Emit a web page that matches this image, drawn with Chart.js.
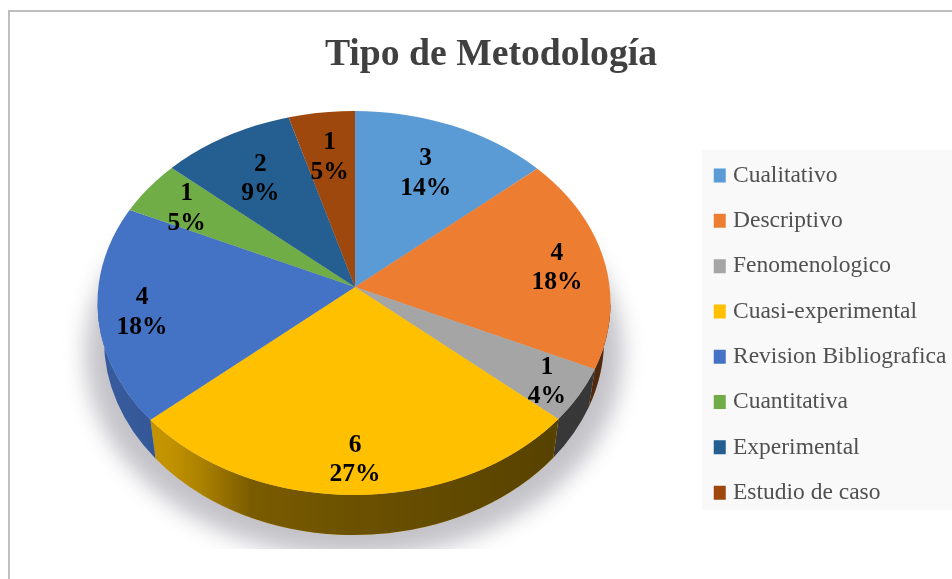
<!DOCTYPE html>
<html><head><meta charset="utf-8">
<style>html,body{margin:0;padding:0;background:#fff;overflow:hidden}canvas{display:block}</style>
<script src="https://cdn.jsdelivr.net/npm/chart.js@4/dist/chart.umd.min.js"></script>
</head><body>
<canvas id="c" width="952" height="579"></canvas>
<script>
const titulo = "Tipo de Metodología";
const categorias = ["Cualitativo","Descriptivo","Fenomenologico","Cuasi-experimental","Revision Bibliografica","Cuantitativa","Experimental","Estudio de caso"];
const valores = [3,4,1,6,4,1,2,1];
const porcentajes = ["14%","18%","4%","27%","18%","5%","9%","5%"];
const colores = ["#5B9BD5","#ED7D31","#A5A5A5","#FFC000","#4472C4","#70AD47","#255E91","#9E480E"];
const alcanceEtiqueta = [0.567,0.68,0.76,0.757,0.717,0.667,0.583,0.593];

const SERIF = '"Liberation Serif", serif';
const CX = 355, CY = 287, R = 300, K = 0.75;
const RIM = {cx:354, cy:303, rx:256.5, ry:192};
const WALL = {cy:340, rx:250, ry:195};

function rimAngle(a, ax, ay){
  const u0=(ax-RIM.cx)/RIM.rx, v0=(ay-RIM.cy)/RIM.ry;
  const c=Math.cos(a), s=Math.sin(a);
  const b=u0*c+v0*s, q=u0*u0+v0*v0-1;
  const t=-b+Math.sqrt(b*b-q);
  let r=Math.atan2(v0+t*s,u0+t*c);
  if(r<-Math.PI/2) r+=2*Math.PI;
  return r;
}

const plugin3d = {
  id:'pie3d',
  afterLayout(chart){
    chart.chartArea = {left:CX-R,right:CX+R,top:CY-R,bottom:CY+R,width:2*R,height:2*R};
    const l = chart.legend;
    const pad = l.options.labels.padding;
    l.left = 718.25-pad; l.right = 952;
    l.top = 142; l.bottom = 579;
    l.width = l.right-l.left; l.height = l.bottom-l.top;
  },
  beforeDraw(chart){
    const ctx = chart.ctx;
    ctx.save();
    ctx.fillStyle = '#fff'; ctx.fillRect(0,0,952,579);
    ctx.strokeStyle = '#bfbfbf'; ctx.lineWidth = 2;
    ctx.strokeRect(9,11,960,600);
    ctx.fillStyle = '#f9f9f9'; ctx.fillRect(702,150,250,360);
    ctx.restore();
  },
  beforeDatasetDraw(chart,args){
    const ctx = chart.ctx;
    const arcs = args.meta.data;
    const ax = arcs[0].x, ay = arcs[0].y;
    // cast shadow
    ctx.save();
    ctx.beginPath(); ctx.rect(0,0,952,549); ctx.clip();
    ctx.filter = 'blur(11px)';
    ctx.fillStyle = '#c2c2c8';
    ctx.beginPath(); ctx.ellipse(RIM.cx,WALL.cy+14,RIM.rx+12,WALL.ry+8,0,0,Math.PI*2); ctx.fill();
    ctx.restore();
    // side wall
    const shade = ctx.createLinearGradient(97,0,610,0);
    shade.addColorStop(0,'rgba(0,0,0,0.20)');
    shade.addColorStop(0.14,'rgba(0,0,0,0.24)');
    shade.addColorStop(0.2,'rgba(0,0,0,0.32)');
    shade.addColorStop(0.3,'rgba(0,0,0,0.52)');
    shade.addColorStop(0.5,'rgba(0,0,0,0.58)');
    shade.addColorStop(1,'rgba(0,0,0,0.68)');
    arcs.forEach((a,i)=>{
      const s = Math.max(rimAngle(a.startAngle,ax,ay),0), e = Math.min(rimAngle(a.endAngle,ax,ay),Math.PI);
      if(e<=s) return;
      [colores[i],shade].forEach(fill=>{
        ctx.beginPath();
        ctx.ellipse(RIM.cx,WALL.cy,WALL.rx,WALL.ry,0,s,e);
        ctx.lineTo(RIM.cx+RIM.rx*Math.cos(e),RIM.cy+RIM.ry*Math.sin(e));
        ctx.ellipse(RIM.cx,RIM.cy,RIM.rx,RIM.ry,0,e,s,true);
        ctx.closePath();
        ctx.fillStyle = fill; ctx.fill();
      });
    });
    // top face: the library's arcs, flattened and cut to the rim
    ctx.save();
    ctx.beginPath(); ctx.ellipse(RIM.cx,RIM.cy,RIM.rx,RIM.ry,0,0,Math.PI*2); ctx.clip();
    ctx.translate(ax,ay); ctx.scale(1,K); ctx.translate(-ax,-ay);
    arcs.forEach(a=>a.draw(ctx));
    ctx.restore();
    return false;
  },
  afterDatasetsDraw(chart){
    const ctx = chart.ctx;
    const arcs = chart.getDatasetMeta(0).data;
    ctx.save();
    ctx.font = 'bold 25.5px '+SERIF;
    ctx.fillStyle = '#000';
    ctx.textAlign = 'center'; ctx.textBaseline = 'middle';
    arcs.forEach((a,i)=>{
      const m = (a.startAngle+a.endAngle)/2, rr = a.outerRadius*alcanceEtiqueta[i];
      const x = a.x+rr*Math.cos(m), y = a.y+K*rr*Math.sin(m)+2.5;
      ctx.fillText(String(valores[i]),x,y-14.75);
      ctx.fillText(porcentajes[i],x,y+14.75);
    });
    ctx.restore();
  }
};

new Chart(document.getElementById('c'),{
  type:'pie',
  data:{labels:categorias,datasets:[{data:valores,backgroundColor:colores,borderWidth:0,clip:false}]},
  plugins:[plugin3d],
  options:{
    responsive:false,animation:false,
    layout:{padding:{left:30,top:32.5}},
    plugins:{
      tooltip:{enabled:false},
      title:{display:true,text:titulo,color:'#404040',font:{family:SERIF,size:37.7,weight:'bold'},padding:{top:0,bottom:10}},
      legend:{
        display:true,position:'right',align:'start',
        labels:{
          color:'#505050',font:{family:SERIF,size:23.5},padding:21.8,
          boxWidth:3,boxHeight:5,
          generateLabels(chart){
            return Chart.overrides.pie.plugins.legend.labels.generateLabels(chart).map((it,i)=>({
              ...it,fillStyle:colores[i],strokeStyle:colores[i],lineWidth:9
            }));
          }
        }
      }
    }
  }
});
</script>
</body></html>
